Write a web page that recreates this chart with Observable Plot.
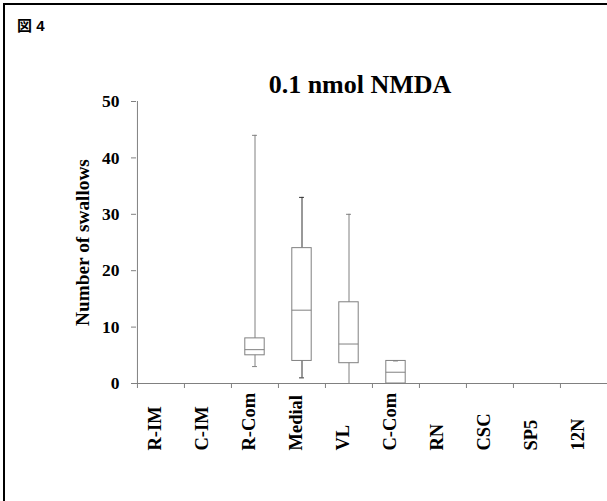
<!DOCTYPE html>
<html><head><meta charset="utf-8">
<script src="https://cdn.jsdelivr.net/npm/d3@7"></script>
<script src="https://cdn.jsdelivr.net/npm/@observablehq/plot@0.6"></script>
<style>
body{margin:0;background:#fff;}
#wrap{position:relative;width:607px;height:501px;overflow:hidden;background:#fff;}
#border{position:absolute;left:3px;top:3px;width:700px;height:600px;border-left:2px solid #000;border-top:2px solid #000;}
#fig{position:absolute;left:17px;top:14px;font:bold 15px "Liberation Sans","Noto Sans CJK JP",sans-serif;color:#000;}
#chart{position:absolute;left:0;top:0;}
</style></head><body>
<div id="wrap"><div id="border"></div><div id="fig">図 4</div><div id="chart"></div></div>
<script>
const categories = ["R-IM","C-IM","R-Com","Medial","VL","C-Com","RN","CSC","SP5","12N"];
const whiskerLow  = [null, null, 3, 1, 0, 0, null, null, null, null];
const quartile1   = [null, null, 5, 4, 3.6, 0, null, null, null, null];
const medians     = [null, null, 6, 13, 7, 2, null, null, null, null];
const quartile3   = [null, null, 8, 24, 14.4, 4, null, null, null, null];
const whiskerHigh = [null, null, 44, 33, 30, 4, null, null, null, null];
const yTicks = [0, 10, 20, 30, 40, 50];
const titleText = "0.1 nmol NMDA";
const yLabel = "Number of swallows";

const rows = categories.map((c, i) => ({
  region: c, lo: whiskerLow[i], q1: quartile1[i], med: medians[i], q3: quartile3[i], hi: whiskerHigh[i]
})).filter(d => d.med != null);

const serif = '"Liberation Serif","Times New Roman",serif';
const W = 607, H = 501, mL = 136, mR = 0, mT = 101, mB = 118;
const bw = (W - mL - mR) / categories.length;
const boxInset = (bw - 19.5) / 2;
const capInset = (bw - 5) / 2;
const gray = "#808080";
const dark = d => d.region === "Medial" ? "#333" : gray;

const plot = Plot.plot({
  width: W, height: H,
  marginLeft: mL, marginRight: mR, marginTop: mT, marginBottom: mB,
  style: {fontFamily: serif, fontWeight: "bold", fontSize: "17.5px", background: "transparent", color: "#000"},
  x: {domain: categories, padding: 0, axis: null},
  y: {domain: [0, 50], axis: null},
  marks: [
    Plot.axisY({ticks: yTicks, tickSize: 5, tickPadding: 12, fontSize: 17.5, stroke: gray, fill: "#000", label: null}),
    Plot.ruleX([categories[0]], {x: d => d, y1: 0, y2: 50, dx: -bw / 2, stroke: gray}),
    Plot.ruleY([0], {stroke: gray}),
    Plot.axisX({tickSize: 5, tickFormat: () => "", dx: -bw / 2, stroke: gray, label: null}),
    Plot.text(categories, {x: d => d, text: d => d, frameAnchor: "bottom", rotate: -90, textAnchor: "start", dy: 67, fontSize: 18.5, fill: "#000"}),
    Plot.ruleX(rows, {x: "region", y1: "q3", y2: "hi", stroke: dark}),
    Plot.ruleX(rows, {x: "region", y1: "lo", y2: "q1", stroke: dark}),
    Plot.tickY(rows, {x: "region", y: "hi", insetLeft: capInset, insetRight: capInset, stroke: dark}),
    Plot.tickY(rows, {x: "region", y: "lo", insetLeft: capInset, insetRight: capInset, stroke: dark}),
    Plot.barY(rows, {x: "region", y1: "q1", y2: "q3", fill: "none", stroke: gray, insetLeft: boxInset, insetRight: boxInset}),
    Plot.tickY(rows, {x: "region", y: "med", insetLeft: boxInset, insetRight: boxInset, stroke: gray}),
    Plot.text([yLabel], {text: d => d, frameAnchor: "left", textAnchor: "middle", rotate: -90, dx: -54, fontSize: 19.3, fill: "#000"}),
    Plot.text([titleText], {text: d => d, frameAnchor: "top", textAnchor: "middle", dx: -12, dy: -27.3, fontSize: 26, fill: "#000"})
  ]
});
document.getElementById("chart").appendChild(plot);
</script>
</body></html>
